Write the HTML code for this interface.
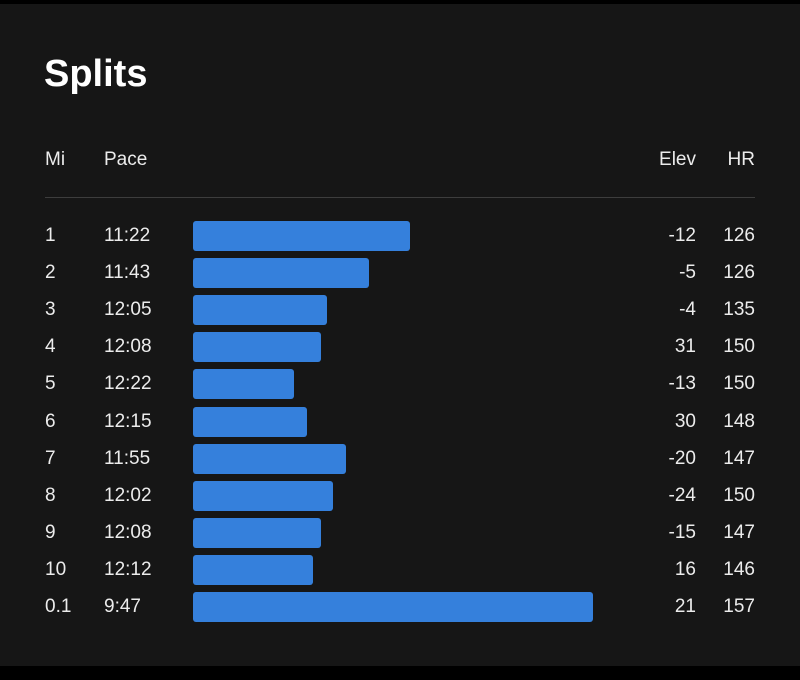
<!DOCTYPE html>
<html><head><meta charset="utf-8"><style>
html,body{margin:0;padding:0;background:#000;}
body{width:800px;height:680px;position:relative;overflow:hidden;font-family:"Liberation Sans",sans-serif;}
#panel{position:absolute;left:0;top:4px;width:800px;height:662px;background:#161616;}
.t{position:absolute;color:#ececec;font-size:19px;line-height:20px;white-space:nowrap;}
.r{text-align:right;}
</style></head><body>
<div id="panel"></div>
<div class="t" style="left:44px;top:52px;font-size:38px;line-height:44px;font-weight:bold;color:#fff;">Splits</div>
<div class="t" style="left:45px;top:150px;">Mi</div>
<div class="t" style="left:104px;top:150px;">Pace</div>
<div class="t r" style="right:104px;top:150px;">Elev</div>
<div class="t r" style="right:45px;top:150px;">HR</div>
<div style="position:absolute;left:45px;top:197px;width:710px;height:1px;background:#3d3d3d;"></div>
<div id="rows"></div>
<script>
const miles = ["1","2","3","4","5","6","7","8","9","10","0.1"];
const paces = ["11:22","11:43","12:05","12:08","12:22","12:15","11:55","12:02","12:08","12:12","9:47"];
const elevs = [-12,-5,-4,31,-13,30,-20,-24,-15,16,21];
const hrs = [126,126,135,150,150,148,147,150,147,146,157];

function secs(p){const a=p.split(":");return (+a[0])*60+(+a[1]);}
function barWidth(p){return (794.3-secs(p))*1.93;}
function rowY(i){return 236+i*37.1;}

const root=document.getElementById('rows');
miles.forEach((m,i)=>{
  const cy=rowY(i);
  const mk=(txt,style,name,cls)=>{
    const d=document.createElement('div');
    d.className='t'+(cls?' '+cls:'');
    d.textContent=txt;
    d.style.cssText=style+'top:'+(cy-10)+'px;';
    
    
    root.appendChild(d);
  };
  mk(m,'left:45px;','mile-label');
  mk(paces[i],'left:104px;','pace-value');
  mk(String(elevs[i]),'right:104px;','elev-value','r');
  mk(String(hrs[i]),'right:45px;','hr-value','r');
  const b=document.createElement('div');
  b.style.cssText='position:absolute;left:193px;top:'+(cy-15)+'px;height:30px;width:'+barWidth(paces[i])+'px;background:#3580dc;border-radius:3px;';
  
  
  root.appendChild(b);
});
</script>
</body></html>
